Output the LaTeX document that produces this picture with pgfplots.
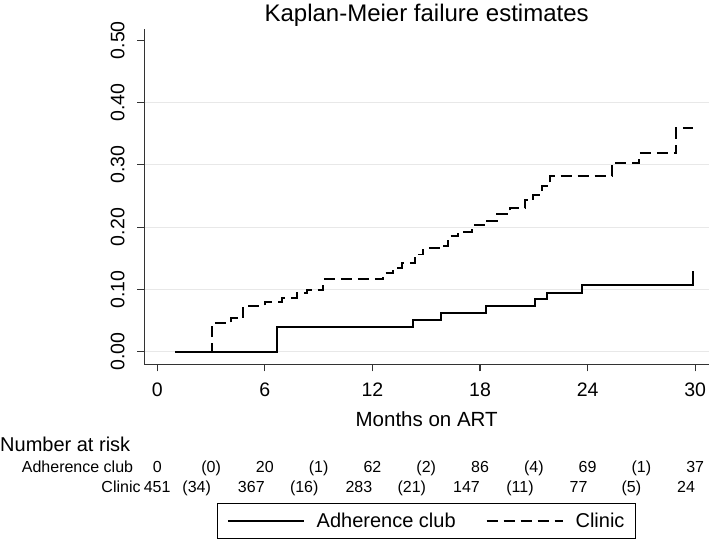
\documentclass[border=0pt]{standalone}
\usepackage{fontspec}
\setmainfont{Liberation Sans}
\usepackage{pgfplots}
\pgfplotsset{compat=1.18}
\newcommand{\fs}[1]{\fontsize{#1bp}{#1bp}\selectfont}
\begin{document}
\begin{tikzpicture}
\begin{axis}[
  at={(0,0)}, anchor=south west,
  scale only axis,
  x=17.93bp, y=623bp,
  xmin=-0.725, xmax=30.77,
  ymin=-0.0202, ymax=0.518,
  clip=false,
  axis lines=left,
  axis line style={-, line width=1.2bp, draw=black!80},
  tick style={line width=1.1bp, draw=black!80},
  major tick length=7bp,
  tick align=outside,
  /pgf/number format/assume math mode=true,
  xtick={0,6,12,18,24,30},
  xticklabel style={font=\fs{19.5}, anchor=base},
  xticklabel shift=25bp,
  ytick={0,0.1,0.2,0.3,0.4},
  yticklabels={0.00,0.10,0.20,0.30,0.40},
  extra y ticks={0.5},
  extra y tick labels={0.50},
  extra y tick style={grid=none},
  yticklabel style={font=\fs{19.5}, rotate=90, anchor=base},
  yticklabel shift=13bp,
  ymajorgrids,
  major grid style={line width=1bp, draw=black!9},
  xlabel={Months on ART},
  xlabel style={at={(axis description cs:0.5,0)}, anchor=base, yshift=-61.7bp, font=\fs{20.5}},
  title={Kaplan-Meier failure estimates},
  title style={at={(axis description cs:0.5,1)}, anchor=base, yshift=1.5bp, font=\fs{24}},
  legend style={at={(0.5,-0.466)}, anchor=center, draw=black, line width=0.8bp, fill=white,
    font=\fs{20}, legend columns=2, inner xsep=9bp, inner ysep=7.5bp,
    /tikz/every odd column/.append style={column sep=10bp},
    /tikz/every even column/.append style={column sep=28bp}},
  legend image code/.code={\draw[#1] (0bp,0bp) -- (76bp,0bp);},
]
\addplot[const plot, black, line width=1.9bp] coordinates {
 (1,0) (6.69,0.040) (14.28,0.051) (15.8,0.0616) (18.31,0.0733)
 (21.06,0.084) (21.72,0.0947) (23.67,0.1066) (29.9,0.130)
};
\addlegendentry{Adherence club}
\addplot[const plot, black, line width=1.9bp, dash pattern=on 11bp off 6bp] coordinates {
 (1,0) (3.03,0.0455) (4.1,0.054) (4.8,0.0738) (6.0,0.080) (6.94,0.0867)
 (7.77,0.0937) (8.33,0.099) (9.26,0.116) (12.6,0.126) (13.16,0.135)
 (13.63,0.142) (14.37,0.156) (14.84,0.166) (15.77,0.170) (16.23,0.1857)
 (16.79,0.1926) (17.53,0.203) (18.28,0.210) (18.93,0.221) (19.67,0.230)
 (20.51,0.2435) (20.97,0.2515) (21.44,0.266) (21.9,0.282) (25.34,0.3035)
 (26.88,0.3185) (28.93,0.3586) (29.9,0.3586)
};
\addlegendentry{Clinic}
% number at risk table
\node[anchor=base west, inner sep=0pt, font=\fs{20}, xshift=-144.3bp, yshift=-87.5bp] at (rel axis cs:0,0) {Number at risk};
\node[anchor=base east, inner sep=0pt, font=\fs{16}, xshift=-11bp, yshift=-108bp] at (rel axis cs:0,0) {Adherence club};
\node[anchor=base east, inner sep=0pt, font=\fs{16}, xshift=-3.5bp, yshift=-128bp] at (rel axis cs:0,0) {Clinic};
% Adherence club row
\node[anchor=base, inner sep=0pt, font=\fs{16}, yshift=-108bp] at (axis cs:0,-0.0202) {0};
\node[anchor=base, inner sep=0pt, font=\fs{16}, yshift=-108bp] at (axis cs:3,-0.0202) {(0)};
\node[anchor=base, inner sep=0pt, font=\fs{16}, yshift=-108bp] at (axis cs:6,-0.0202) {20};
\node[anchor=base, inner sep=0pt, font=\fs{16}, yshift=-108bp] at (axis cs:9,-0.0202) {(1)};
\node[anchor=base, inner sep=0pt, font=\fs{16}, yshift=-108bp] at (axis cs:12,-0.0202) {62};
\node[anchor=base, inner sep=0pt, font=\fs{16}, yshift=-108bp] at (axis cs:15,-0.0202) {(2)};
\node[anchor=base, inner sep=0pt, font=\fs{16}, yshift=-108bp] at (axis cs:18,-0.0202) {86};
\node[anchor=base, inner sep=0pt, font=\fs{16}, yshift=-108bp] at (axis cs:21,-0.0202) {(4)};
\node[anchor=base, inner sep=0pt, font=\fs{16}, yshift=-108bp] at (axis cs:24,-0.0202) {69};
\node[anchor=base, inner sep=0pt, font=\fs{16}, yshift=-108bp] at (axis cs:27,-0.0202) {(1)};
\node[anchor=base, inner sep=0pt, font=\fs{16}, yshift=-108bp] at (axis cs:30,-0.0202) {37};
% Clinic row
\node[anchor=base east, inner sep=0pt, font=\fs{16}, yshift=-128bp] at (axis cs:0.75,-0.0202) {451};
\node[anchor=base east, inner sep=0pt, font=\fs{16}, yshift=-128bp] at (axis cs:3,-0.0202) {(34)};
\node[anchor=base east, inner sep=0pt, font=\fs{16}, yshift=-128bp] at (axis cs:6,-0.0202) {367};
\node[anchor=base east, inner sep=0pt, font=\fs{16}, yshift=-128bp] at (axis cs:9,-0.0202) {(16)};
\node[anchor=base east, inner sep=0pt, font=\fs{16}, yshift=-128bp] at (axis cs:12,-0.0202) {283};
\node[anchor=base east, inner sep=0pt, font=\fs{16}, yshift=-128bp] at (axis cs:15,-0.0202) {(21)};
\node[anchor=base east, inner sep=0pt, font=\fs{16}, yshift=-128bp] at (axis cs:18,-0.0202) {147};
\node[anchor=base east, inner sep=0pt, font=\fs{16}, yshift=-128bp] at (axis cs:21,-0.0202) {(11)};
\node[anchor=base east, inner sep=0pt, font=\fs{16}, yshift=-128bp] at (axis cs:24,-0.0202) {77};
\node[anchor=base east, inner sep=0pt, font=\fs{16}, yshift=-128bp] at (axis cs:27,-0.0202) {(5)};
\node[anchor=base east, inner sep=0pt, font=\fs{16}, yshift=-128bp] at (axis cs:30,-0.0202) {24};
\end{axis}
\pgfresetboundingbox
\path[use as bounding box] (-144.3bp,-175.7bp) rectangle (564.7bp,364.3bp);
\end{tikzpicture}
\end{document}
